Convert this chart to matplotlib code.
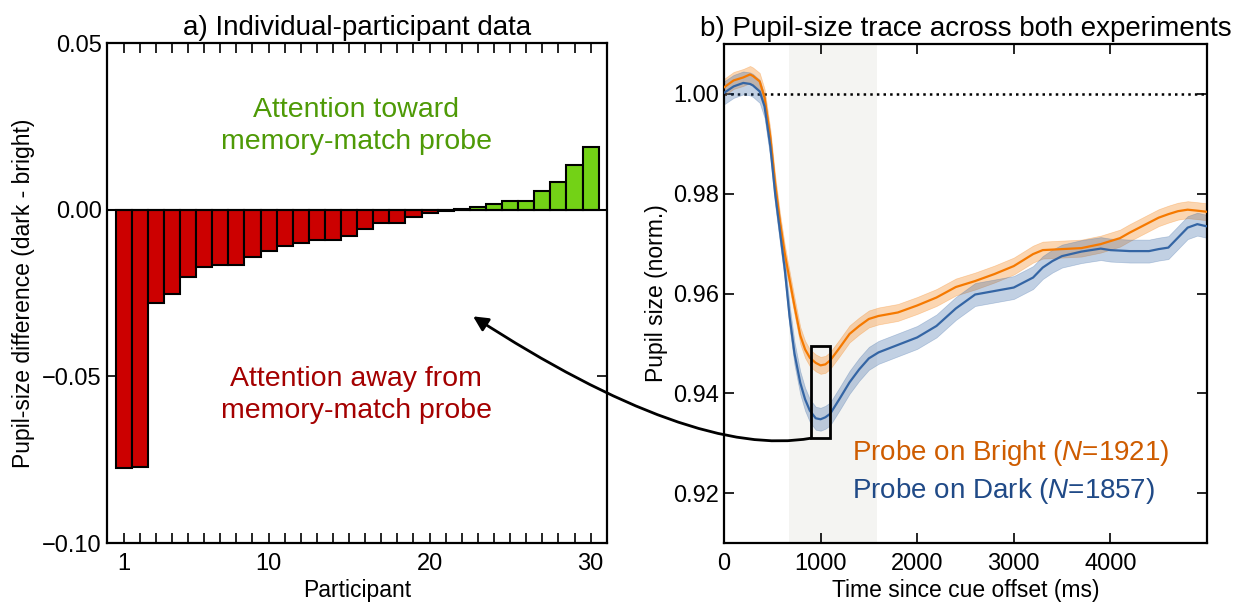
import numpy as np
import matplotlib
matplotlib.use('Agg')
import matplotlib.pyplot as plt
from matplotlib.patches import Rectangle, ConnectionPatch

plt.rcParams['font.family'] = ['Liberation Sans', 'DejaVu Sans']
plt.rcParams['mathtext.fontset'] = 'custom'
plt.rcParams['mathtext.it'] = 'Liberation Sans:italic'
plt.rcParams['mathtext.rm'] = 'Liberation Sans'

# a) per-participant effect (dark - bright), sorted
participant = list(range(1, 31))
diff = [-0.0775, -0.0772, -0.0280, -0.0252, -0.0203, -0.0173, -0.0165, -0.0167,
        -0.0142, -0.0125, -0.0110, -0.0100, -0.0092, -0.0090, -0.0078, -0.0057,
        -0.0040, -0.0040, -0.0022, -0.0010, -0.0005, 0.0003, 0.0007, 0.0018,
        0.0027, 0.0027, 0.0057, 0.0082, 0.0134, 0.0187]

# b) pupil trace (ms, normalised size)
time = [0, 100, 200, 270, 300, 370, 420, 480, 530, 580, 630, 680, 730, 790, 840,
        890, 950, 1000, 1050, 1100, 1200, 1300, 1400, 1500, 1600, 1800, 2000,
        2200, 2400, 2600, 2800, 3000, 3200, 3300, 3400, 3500, 3700, 3900, 4000,
        4100, 4200, 4300, 4400, 4500, 4600, 4700, 4800, 4900, 4990]
bright = [1.0013, 1.0027, 1.0033, 1.0039, 1.0036, 1.0025, 0.9993, 0.9913, 0.9820,
          0.9744, 0.9680, 0.9627, 0.9575, 0.9516, 0.9488, 0.9471, 0.9461, 0.9456,
          0.9458, 0.9466, 0.9492, 0.9519, 0.9535, 0.9549, 0.9555, 0.9562, 0.9576,
          0.9592, 0.9613, 0.9625, 0.9639, 0.9655, 0.9679, 0.9687, 0.9688, 0.9689,
          0.9691, 0.9699, 0.9705, 0.9711, 0.9722, 0.9732, 0.9742, 0.9752, 0.9759,
          0.9765, 0.9768, 0.9766, 0.9764]
dark = [1.0002, 1.0015, 1.0022, 1.0020, 1.0017, 1.0005, 0.9975, 0.9895, 0.9800,
        0.9724, 0.9648, 0.9553, 0.9480, 0.9421, 0.9388, 0.9365, 0.9350, 0.9348,
        0.9352, 0.9359, 0.9390, 0.9422, 0.9448, 0.9470, 0.9482, 0.9497, 0.9512,
        0.9535, 0.9570, 0.9598, 0.9605, 0.9612, 0.9632, 0.9652, 0.9665, 0.9675,
        0.9684, 0.9690, 0.9687, 0.9686, 0.9685, 0.9685, 0.9685, 0.9689, 0.9692,
        0.9712, 0.9732, 0.9739, 0.9735]
bright_se = 0.0017
dark_se = 0.0023

fig = plt.figure(figsize=(12.51, 6.07), dpi=100)
ax1 = fig.add_axes([0.0853, 0.1054, 0.3997, 0.8237])
ax2 = fig.add_axes([0.5787, 0.1054, 0.3861, 0.8221])

# --- panel a
cols = ['#cc0000' if d < 0 else '#73d216' for d in diff]
ax1.bar(participant, diff, width=1.0, color=cols, edgecolor='black', linewidth=1.5, zorder=2)
ax1.axhline(0, color='black', lw=1.5, zorder=3)
ax1.set_xlim(-0.05, 31)
ax1.set_ylim(-0.10, 0.05)
ax1.set_xticks([1, 10, 20, 30])
ax1.set_xticks(participant, minor=True)
ax1.set_yticks([-0.10, -0.05, 0.00, 0.05])
ax1.set_yticklabels(['\u22120.10', '\u22120.05', '0.00', '0.05'])
ax1.set_xlabel('Participant', fontsize=16.5, labelpad=3)
ax1.set_ylabel('Pupil-size difference (dark - bright)', fontsize=16.5, labelpad=5)
ax1.set_title('a) Individual-participant data', fontsize=20, pad=6)
ax1.text(15.45, 0.0252, 'Attention toward\nmemory-match probe', color='#4e9a06',
         fontsize=20.5, ha='center', va='center', linespacing=1.3)
ax1.text(15.45, -0.0555, 'Attention away from\nmemory-match probe', color='#a40000',
         fontsize=20.5, ha='center', va='center', linespacing=1.3)

# --- panel b
ax2.axvspan(670, 1580, color='#f4f4f2', zorder=0, lw=0)
ax2.axhline(1.0, color='black', ls=':', lw=1.8, zorder=1)
t = np.array(time)
b = np.array(bright)
d = np.array(dark)
ax2.fill_between(t, b - bright_se, b + bright_se, color='#f57900', alpha=0.3, lw=0.5, zorder=2)
ax2.fill_between(t, d - dark_se, d + dark_se, color='#3465a4', alpha=0.3, lw=0.5, zorder=2)
ax2.plot(t, b, color='#f57900', lw=1.6, zorder=3)
ax2.plot(t, d, color='#3465a4', lw=1.6, zorder=3)
ax2.add_patch(Rectangle((900, 0.931), 200, 0.0185, fill=False, ec='black', lw=2, zorder=4))
ax2.set_xlim(0, 5000)
ax2.set_ylim(0.91, 1.01)
ax2.set_xticks([0, 1000, 2000, 3000, 4000])
ax2.set_yticks([0.92, 0.94, 0.96, 0.98, 1.00])
ax2.set_yticklabels(['0.92', '0.94', '0.96', '0.98', '1.00'])
ax2.set_xlabel('Time since cue offset (ms)', fontsize=16.5, labelpad=3)
ax2.set_ylabel('Pupil size (norm.)', fontsize=16.5, labelpad=4)
ax2.set_title('b) Pupil-size trace across both experiments', fontsize=20, pad=6)
ax2.text(1330, 0.928, r'Probe on Bright ($\mathit{N}$=1921)', color='#ce5c00',
         fontsize=20, ha='left', va='center')
ax2.text(1330, 0.9205, r'Probe on Dark ($\mathit{N}$=1857)', color='#204a87',
         fontsize=20, ha='left', va='center')

for ax in (ax1, ax2):
    for s in ax.spines.values():
        s.set_linewidth(1.6)
    ax.tick_params(which='both', direction='in', top=True, right=True,
                   length=7, width=1.2, labelsize=17)
    ax.tick_params(axis='x', pad=7)

arrow = ConnectionPatch(xyA=(900, 0.931), coordsA=ax2.transData,
                        xyB=(22.7, -0.032), coordsB=ax1.transData,
                        arrowstyle='-|>', mutation_scale=22, lw=2, color='black',
                        connectionstyle='angle3,angleA=10,angleB=-33', zorder=10)
fig.add_artist(arrow)

fig.savefig('out.png', dpi=100)
